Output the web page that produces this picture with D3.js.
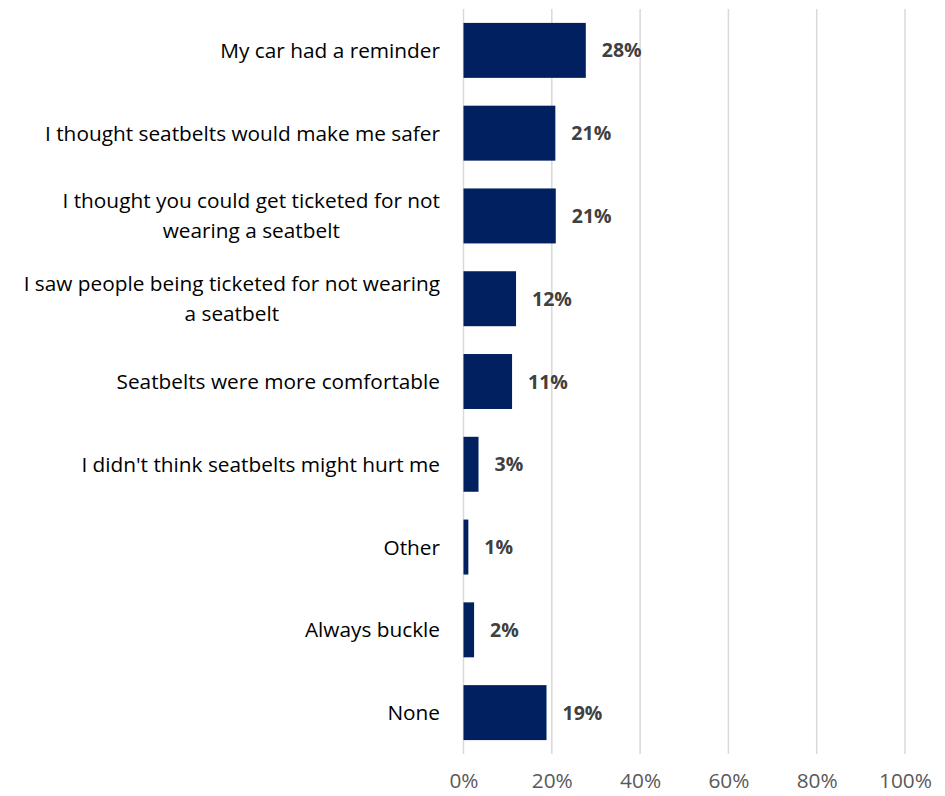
<!DOCTYPE html>
<html>
<head>
<meta charset="utf-8">
<script src="https://cdn.jsdelivr.net/npm/d3@7"></script>
<style>
  html, body { margin: 0; padding: 0; background: #fff; }
  svg { display: block; font-family: "Open Sans", Lato, sans-serif; }
</style>
</head>
<body>
<svg id="chart" width="945" height="796"></svg>
<script>
// Reasons respondents gave for buckling up (share of respondents)
const categories = [
  ["My car had a reminder"],
  ["I thought seatbelts would make me safer"],
  ["I thought you could get ticketed for not", "wearing a seatbelt"],
  ["I saw people being ticketed for not wearing", "a seatbelt"],
  ["Seatbelts were more comfortable"],
  ["I didn't think seatbelts might hurt me"],
  ["Other"],
  ["Always buckle"],
  ["None"]
];
const values = [0.277, 0.208, 0.209, 0.119, 0.110, 0.034, 0.011, 0.024, 0.188];
const xTicks = [0, 0.2, 0.4, 0.6, 0.8, 1.0];

const svg = d3.select("#chart");
const margin = { left: 463.5, right: 40, top: 9, bottom: 42 };
const W = 945, H = 796;
const labelSize = "20.8px";
const valueSize = "19.5px";

const x = d3.scaleLinear().domain([0, 1]).range([margin.left, W - margin.right]);
const y = d3.scaleBand()
  .domain(d3.range(categories.length))
  .range([margin.top, H - margin.bottom])
  .paddingInner(0.336)
  .paddingOuter(0.168);

const pct = d3.format(".0%");

// Vertical gridlines (including the zero line)
svg.append("g")
  .selectAll("line")
  .data(xTicks)
  .join("line")
  .attr("x1", d => x(d)).attr("x2", d => x(d))
  .attr("y1", margin.top).attr("y2", H - margin.bottom)
  .attr("stroke", "#d9d9d9")
  .attr("stroke-width", 1.5);

// X axis tick labels
const xAxis = d3.axisBottom(x).tickValues(xTicks).tickFormat(pct).tickSize(0).tickPadding(0);
const gx = svg.append("g")
  .attr("transform", `translate(0, ${H - margin.bottom})`)
  .call(xAxis);
gx.select(".domain").remove();
gx.selectAll("text")
  .attr("y", 34)
  .attr("dy", null)
  .attr("fill", "#595959")
  .style("font-size", labelSize)
  .style("font-family", "'Open Sans', Lato, sans-serif");

// Bars
svg.append("g")
  .selectAll("rect")
  .data(values)
  .join("rect")
  .attr("x", x(0))
  .attr("y", (d, i) => y(i))
  .attr("width", d => x(d) - x(0))
  .attr("height", y.bandwidth())
  .attr("fill", "#002060");

// Value labels
svg.append("g")
  .selectAll("text")
  .data(values)
  .join("text")
  .attr("x", d => x(d) + 16)
  .attr("y", (d, i) => y(i) + y.bandwidth() / 2)
  .attr("dy", "0.36em")
  .attr("fill", "#404040")
  .style("font-size", valueSize)
  .style("font-weight", "bold")
  .text(d => pct(d));

// Category labels (right aligned, wrapped lines centred on the band)
const lineH = 30;
const cat = svg.append("g")
  .selectAll("text")
  .data(categories)
  .join("text")
  .attr("text-anchor", "middle")
  .attr("fill", "#000")
  .style("font-size", labelSize);

cat.each(function (lines, i) {
  const t = d3.select(this);
  const cy = y(i) + y.bandwidth() / 2;
  lines.forEach((ln, k) => {
    t.append("tspan")
      .attr("y", cy + (k - (lines.length - 1) / 2) * lineH)
      .attr("dy", "0.36em")
      .text(ln);
  });
});
// Right-align the label block at the axis, centring wrapped lines within it
cat.each(function () {
  const t = d3.select(this);
  const spans = t.selectAll("tspan").nodes();
  const widest = d3.max(spans, s => s.getComputedTextLength());
  const cx = 440 - widest / 2;
  t.selectAll("tspan").attr("x", cx);
});
</script>
</body>
</html>
